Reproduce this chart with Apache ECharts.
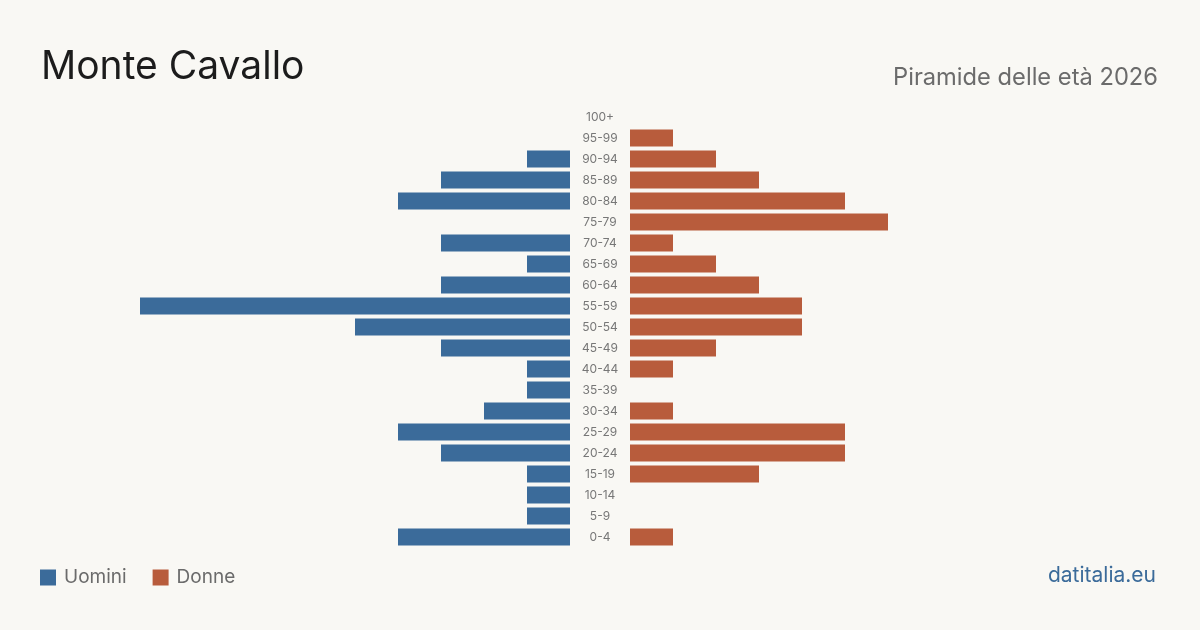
<!DOCTYPE html>
<html>
<head>
<meta charset="utf-8">
<script src="https://cdn.jsdelivr.net/npm/echarts@6/dist/echarts.min.js"></script>
<style>
  html, body { margin: 0; padding: 0; background: #f9f8f4; }
  #chart { width: 1200px; height: 630px; }
</style>
</head>
<body>
<div id="chart"></div>
<script>
// fasce d'età, dal basso verso l'alto
const ageGroups = ['0-4', '5-9', '10-14', '15-19', '20-24', '25-29', '30-34', '35-39', '40-44', '45-49',
  '50-54', '55-59', '60-64', '65-69', '70-74', '75-79', '80-84', '85-89', '90-94', '95-99', '100+'];
const men   = [4, 1, 1, 1, 3, 4, 2, 1, 1, 3, 5, 10, 3, 1, 3, 0, 4, 3, 1, 0, 0];
const women = [1, 0, 0, 3, 5, 5, 1, 0, 1, 2, 4, 4, 3, 2, 1, 6, 5, 3, 2, 1, 0];
const axisMax = 10;

const blue = '#3b6b9a';
const orange = '#b85c3c';
const font = 'Inter, "Noto Sans", sans-serif';

const chart = echarts.init(document.getElementById('chart'));

chart.setOption({
  backgroundColor: '#f9f8f4',
  animation: false,
  textStyle: { fontFamily: font },
  title: [
    {
      text: 'Monte Cavallo',
      left: 36, top: 43,
      textStyle: { fontSize: 39, fontWeight: 'normal', color: '#1c1c1c', fontFamily: font }
    },
    {
      text: 'Piramide delle età 2026',
      right: 37, top: 61,
      textStyle: { fontSize: 23.7, fontWeight: 'normal', color: '#6b6b6b', fontFamily: font }
    },
    {
      text: 'datitalia.eu',
      right: 39, top: 560,
      textStyle: { fontSize: 21, fontWeight: 'normal', color: '#3b6b9a', fontFamily: font }
    }
  ],
  legend: {
    left: 35, top: 563,
    icon: 'rect',
    itemWidth: 16, itemHeight: 16,
    itemGap: 26,
    textStyle: { fontSize: 19, color: '#6b6b6b', fontFamily: font, padding: [0, 0, 0, 3] },
    data: ['Uomini', 'Donne']
  },
  grid: [
    { left: 140, width: 430, top: 106.5, height: 441 },
    { left: 630, width: 430, top: 106.5, height: 441 }
  ],
  xAxis: [
    { gridIndex: 0, type: 'value', min: 0, max: axisMax, inverse: true, show: false },
    { gridIndex: 1, type: 'value', min: 0, max: axisMax, show: false }
  ],
  yAxis: [
    {
      gridIndex: 0, type: 'category', data: ageGroups,
      axisLine: { show: false }, axisTick: { show: false }, axisLabel: { show: false }
    },
    {
      gridIndex: 1, type: 'category', data: ageGroups, position: 'left',
      axisLine: { show: false }, axisTick: { show: false },
      axisLabel: { margin: 30, align: 'center', fontSize: 12, color: '#777', fontFamily: font }
    }
  ],
  series: [
    {
      name: 'Uomini', type: 'bar', xAxisIndex: 0, yAxisIndex: 0,
      data: men, barWidth: 17, itemStyle: { color: blue }
    },
    {
      name: 'Donne', type: 'bar', xAxisIndex: 1, yAxisIndex: 1,
      data: women, barWidth: 17, itemStyle: { color: orange }
    }
  ]
});
</script>
</body>
</html>
